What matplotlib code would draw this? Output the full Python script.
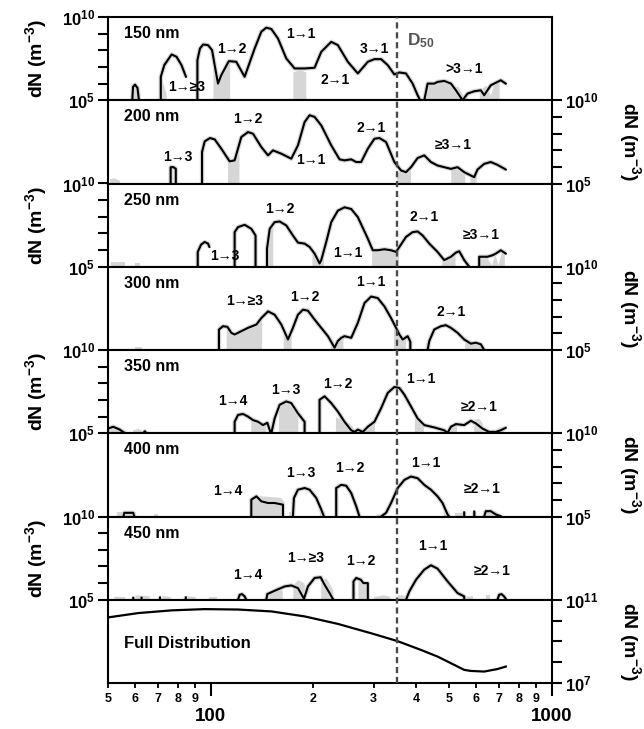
import numpy as np
import matplotlib
matplotlib.use("Agg")
import matplotlib.pyplot as plt
from matplotlib.lines import Line2D
from matplotlib.ticker import NullLocator, FixedLocator

nan = np.nan

# mobility diameter (nm) and log10 dN (m^-3) for each selected size; nan = gap
d150 = [58.9, 59.2, 60.0, 61.0, 61.6, nan,
        71.4, 71.4, 73.1, 76.8, 79.4, 82.1, 84.6, nan,
        91.4, 91.4, 93.0, 95.0, 98.2, 100.9, 102.7, 105.0, 107.4, 113.0, 118.8, 125.7,
        134.5, 140.7, 145.5, 150.5, 157.4, 166.5, 176.1, 188.4, 201.5, 210.8, 225.5,
        235.8, 252.2, 269.8, 288.6, 301.8, 315.6, 330.1, 345.2, 357.1, 373.4, 390.5,
        403.9, 411.0, nan,
        422.4, 432.0, 451.8, 462.0, 483.2, 505.7, 522.9, 547.0, 565.6, 591.6, 618.7,
        632.7, 661.7, 707.8, 732.0]
n150 = [5.0, 5.80, 5.94, 5.74, 5.0, nan,
        5.0, 6.41, 7.11, 7.75, 7.61, 7.11, 6.41, nan,
        5.0, 7.41, 8.11, 8.35, 8.31, 8.01, 7.11, 6.0, 6.51, 7.35, 7.31, 6.41,
        8.11, 9.12, 9.36, 9.28, 8.71, 7.51, 6.91, 6.91, 6.95, 7.91, 8.51,
        8.31, 7.31, 6.61, 7.31, 7.47, 7.47, 7.11, 6.55, 6.67, 6.61, 6.0,
        5.3, 5.0, nan,
        5.0, 6.0, 6.0, 6.1, 6.16, 6.0, 5.6, 5.0, 5.4, 5.54, 5.6,
        5.3, 5.9, 6.2, 6.0]

d200 = [76.3, 76.3, 77.8, 79.0, 79.0, nan,
        94.3, 94.3, 96.0, 99.5, 102.7, 107.4, 113.6, 117.5, 122.9, 128.6, 133.0, 140.7,
        147.2, 152.2, 161.0, 172.2, 180.1, 188.4, 194.8, 201.5, 210.8, 225.5, 238.5,
        246.6, 258.0, 266.8, 275.9, 288.6, 301.8, 312.1, 326.4, 345.2, 361.1, 373.4,
        386.2, 403.9, 422.4, 441.8, 462.0, 483.2, 505.7, 528.9, 553.1, 578.5, 591.6,
        605.0, 632.7, 661.7, 692.1, 732.0]
n200 = [5.0, 5.98, 5.98, 5.88, 5.0, nan,
        5.0, 6.89, 7.53, 7.73, 7.65, 7.09, 6.33, 6.39, 7.79, 8.09, 7.99, 7.19,
        6.69, 6.99, 6.79, 6.49, 7.29, 8.69, 9.10, 9.0, 8.49, 7.29, 6.45,
        6.39, 6.45, 6.29, 6.29, 7.09, 7.69, 7.73, 7.49, 6.29, 5.78, 5.68,
        5.98, 6.53, 6.69, 6.29, 6.08, 5.98, 5.88, 5.98, 5.68, 5.48, 5.38,
        5.84, 6.18, 6.29, 6.12, 5.84]

d250 = [91.6, 91.6, 93.7, 96.0, 98.2, 99.1, nan,
        117.5, 117.5, 120.2, 125.7, 131.5, 135.3, 135.3, nan,
        146.2, 146.2, 148.9, 153.9, 159.2, 166.5, 174.1, 180.1, 188.4, 194.8, 201.5,
        208.4, 210.8, 218.0, 225.5, 235.8, 246.6, 258.0, 269.8, 288.6, 298.4, 308.6,
        322.8, 337.6, 349.2, 357.1, 373.4, 390.5, 403.9, 417.7, 437.0, 462.0, 483.2,
        505.7, 522.9, 534.8, 553.1, 572.0, nan,
        612.0, 612.0, 647.1, 669.2, 684.4, 707.8, 732.0]
n250 = [5.0, 5.89, 6.33, 6.49, 6.39, 6.19, nan,
        5.0, 7.08, 7.38, 7.52, 7.28, 6.88, 5.0, nan,
        5.0, 6.09, 7.28, 7.68, 7.72, 7.48, 6.88, 6.45, 6.39, 6.19, 5.79,
        5.20, 5.40, 6.49, 7.68, 8.37, 8.57, 8.47, 7.98, 6.69, 5.99, 5.99,
        6.05, 5.99, 5.89, 6.19, 6.79, 7.08, 7.12, 6.88, 6.39, 5.89, 5.40,
        5.60, 5.85, 5.93, 5.40, 5.0, nan,
        5.0, 5.60, 5.60, 5.69, 5.79, 5.99, 5.79]

d300 = [105.7, 105.7, 108.6, 111.9, 114.9, 117.5, 122.9, 128.6, 136.1, 140.7, 147.2,
        153.9, 161.0, 168.4, 174.1, 180.1, 186.3, 192.7, 201.5, 210.8, 220.5, 230.6,
        235.8, 241.2, 246.6, 258.0, 269.8, 282.2, 295.1, 308.6, 322.8, 337.6, 349.2,
        357.1, 365.2, 377.6, 384.5, 384.5, nan,
        432.0, 436.9, 451.8, 472.5, 488.8, 505.7, 528.9, 553.1, 578.5, 598.3, 618.7, 632.7]
n300 = [5.0, 6.23, 6.43, 6.39, 6.03, 5.93, 6.13, 6.33, 6.53, 6.92, 7.32,
        7.12, 6.53, 5.63, 6.33, 7.12, 7.42, 7.36, 6.83, 6.33, 5.83, 5.14,
        5.54, 5.73, 5.83, 5.73, 6.63, 7.82, 8.21, 8.12, 7.62, 6.92, 6.33,
        5.93, 5.63, 5.83, 5.5, 5.0, nan,
        5.0, 5.54, 6.23, 6.43, 6.49, 6.33, 6.03, 5.63, 5.38, 5.44, 5.34, 5.0]

d350 = [50.0, 51.8, 54.1, 56.1, nan,
        63.4, 64.1, 64.8, nan,
        117.5, 117.5, 120.2, 124.3, 128.6, 133.0, 137.6, 142.3, 146.5, 149.5, nan,
        150.5, 153.9, 159.2, 166.5, 172.2, 180.1, 188.4, 188.4, nan,
        208.4, 208.4, 215.6, 225.5, 235.8, 246.6, 258.0, 263.8, 269.8, 279.0, 288.6,
        301.8, 315.6, 330.1, 345.2, 357.1, 369.3, 386.2, 403.9, 422.4, 451.8, 483.2,
        494.4, 505.7, 522.9, 553.1, 578.5, 598.3, 625.7, 654.4, 684.4, 707.8, 732.0]
n350 = [5.28, 5.39, 5.22, 5.0, nan,
        5.0, 5.12, 5.0, nan,
        5.0, 5.69, 6.10, 6.16, 6.0, 5.79, 5.69, 5.49, 5.63, 5.08, nan,
        5.0, 5.89, 6.71, 6.91, 6.81, 6.20, 5.69, 5.0, nan,
        5.0, 7.01, 7.22, 6.81, 6.30, 5.69, 5.18, 5.08, 5.22, 5.08, 5.39,
        5.69, 6.50, 7.42, 7.78, 7.72, 7.32, 6.61, 5.89, 5.49, 5.35, 5.18,
        5.02, 5.39, 5.55, 5.49, 5.75, 5.59, 5.28, 5.08, 5.08, 5.18, 5.33]

d400 = [55.5, 55.8, 59.3, 59.7, nan,
        131.5, 131.5, 136.1, 140.7, 147.2, 153.9, 162.8, 162.8, nan,
        174.1, 175.3, 180.1, 188.4, 194.8, 203.8, 210.8, 214.6, nan,
        233.2, 233.2, 241.2, 249.4, 258.0, 266.8, 272.8, nan,
        315.6, 326.4, 337.6, 353.1, 369.3, 386.2, 403.9, 422.4, 441.8, 462.0, 477.8,
        494.4, 500.0, nan,
        553.0, 553.0, nan, 592.0, 592.0, nan,
        632.7, 639.9, 661.7, 684.4, 707.8]
n400 = [5.0, 5.22, 5.22, 5.0, nan,
        5.0, 6.01, 6.21, 5.91, 5.81, 5.81, 5.71, 5.0, nan,
        5.0, 6.11, 6.61, 6.71, 6.61, 6.11, 5.42, 5.0, nan,
        5.0, 6.71, 6.90, 6.85, 6.41, 5.62, 5.0, nan,
        5.0, 5.22, 5.81, 6.71, 7.20, 7.40, 7.30, 6.90, 6.61, 6.21, 5.81,
        5.12, 5.0, nan,
        5.0, 5.25, nan, 5.0, 5.3, nan,
        5.0, 5.32, 5.32, 5.12, 5.02]

d450 = [59.3, 59.3, nan, 62.7, 62.7, nan, 71.0, 71.0, nan, 84.5, 84.5, nan,
        120.2, 121.6, 123.5, 125.7, 127.1, nan,
        145.5, 146.5, 153.9, 164.7, 172.2, 180.1, 187.6, 192.7, 201.5, 209.9, 215.6,
        223.0, 228.6, nan,
        262.0, 262.0, 266.8, 275.3, 280.0, 288.6, 288.6, nan,
        373.4, 381.9, 399.4, 422.4, 441.8, 462.0, 494.4, 528.9, 540.8, 553.1, 553.1, nan,
        692.1, 700.0, 711.0, 723.8, 732.0]
n450 = [5.0, 5.12, nan, 5.0, 5.12, nan, 5.0, 5.14, nan, 5.0, 5.14, nan,
        5.0, 5.30, 5.34, 5.20, 5.0, nan,
        5.0, 5.34, 5.54, 5.80, 5.86, 5.70, 5.06, 5.80, 6.31, 6.35, 5.90,
        5.40, 5.0, nan,
        5.0, 6.10, 6.31, 6.20, 6.0, 6.0, 5.0, nan,
        5.0, 5.50, 6.20, 6.81, 7.07, 6.87, 6.10, 5.40, 5.30, 5.20, 5.0, nan,
        5.0, 5.30, 5.34, 5.20, 5.06]

d_full = [50.0, 61.3, 76.8, 96.0, 120.2, 150.5, 188.4, 235.8, 295.1, 351.5, 413.0,
          462.0, 505.7, 553.1, 578.5, 632.7, 692.1, 732.0]
n_full = [10.15, 10.36, 10.49, 10.55, 10.53, 10.44, 10.20, 9.84, 9.39, 9.02, 8.59,
          8.27, 7.95, 7.63, 7.58, 7.55, 7.67, 7.79]

# light grey spread: upper edge of the band wherever it reaches the bottom
g150_d = [58.5, 59.5, 61.0, 62.0, nan, 70.5, 72.0, 74.0, nan,
          101.5, 103.5, 105.0, 107.4, 110.0, 113.6, nan, 174.0, 182.0, 190.0, nan,
          425.0, 445.0, 470.0, 500.0, 515.0, 530.0, 548.0, 565.0, nan,
          612.0, 640.0, 660.0, 680.0, 700.0]
g150_n = [5.5, 6.0, 5.8, 5.4, nan, 5.9, 6.2, 5.4, nan,
          7.7, 6.8, 6.0, 6.5, 6.9, 7.3, nan, 6.7, 6.85, 6.7, nan,
          5.9, 6.05, 6.1, 5.95, 5.8, 5.85, 5.3, 5.2, nan,
          5.6, 5.9, 5.3, 6.2, 6.1]
g200_d = [50.5, 52.0, 54.0, nan, 112.0, 115.0, 118.0, 121.0, nan,
          350.0, 360.0, 372.0, 385.0, nan, 505.0, 520.0, 540.0, 555.0, nan,
          575.0, 590.0, 600.0]
g200_n = [5.3, 5.35, 5.2, nan, 6.5, 6.4, 6.45, 6.9, nan,
          5.6, 5.75, 5.7, 5.9, nan, 5.85, 5.9, 5.7, 5.6, nan,
          5.5, 5.4, 5.5]
g250_d = [51.0, 53.0, 56.0, nan, 60.0, 62.0, nan, 146.2, 148.9, 152.0, nan,
          198.0, 204.0, 209.0, 214.0, nan, 296.0, 310.0, 325.0, 345.0, 355.0, nan,
          475.0, 490.0, 505.0, 520.0, nan,
          612.0, 640.0, 665.0, 680.0, 695.0, 710.0, 725.0]
g250_n = [5.3, 5.3, 5.3, nan, 5.25, 5.25, nan, 6.3, 7.2, 7.5, nan,
          5.9, 5.5, 5.3, 5.9, nan, 6.0, 6.05, 6.05, 5.95, 5.9, nan,
          5.7, 5.5, 5.6, 5.8, nan,
          5.65, 5.65, 5.1, 5.75, 5.1, 5.9, 5.8]
g300_d = [60.0, 63.0, nan, 111.0, 115.0, 118.0, 125.0, 130.0, 137.0, 141.0, nan,
          163.0, 168.0, 172.0, nan, 224.0, 230.0, 236.0, 244.0, nan,
          343.0, 352.0, 362.0, 372.0, nan, 425.0, 435.0, nan,
          555.0, 580.0, 600.0, 625.0]
g300_n = [5.2, 5.2, nan, 6.35, 6.1, 5.95, 6.2, 6.4, 6.6, 6.9, nan,
          6.3, 5.7, 6.2, nan, 5.9, 5.2, 5.6, 5.85, nan,
          6.3, 6.0, 5.7, 5.8, nan, 5.4, 5.5, nan,
          5.6, 5.45, 5.5, 5.4]
g350_d = [50.0, 53.0, 56.0, nan, 59.0, 61.0, 64.0, nan, 131.0, 137.0, 145.0, nan,
          158.0, 164.0, 172.0, 180.0, nan, 232.0, 245.0, 255.0, 262.0, nan,
          278.0, 290.0, 302.0, nan, 395.0, 410.0, 420.0, nan,
          500.0, 515.0, 525.0, nan, 590.0, 610.0, 625.0, nan, 690.0, 705.0, 720.0]
g350_n = [5.45, 5.45, 5.2, nan, 5.2, 5.3, 5.1, nan, 5.85, 5.8, 5.6, nan,
          6.6, 6.95, 6.8, 6.3, nan, 6.0, 5.75, 5.6, 5.3, nan,
          5.3, 5.6, 5.75, nan, 6.1, 5.7, 5.6, nan,
          5.45, 5.6, 5.55, nan, 5.85, 5.9, 5.6, nan, 5.3, 5.4, 5.35]
g400_d = [53.0, 56.0, 60.0, nan, 68.0, 70.0, nan, 130.0, 138.0, 150.0, 160.0, 164.0, nan,
          170.0, 176.0, nan, 208.0, 216.0, nan, 305.0, 318.0, nan,
          480.0, 500.0, nan, 520.0, 560.0, nan, 625.0, 660.0, 690.0]
g400_n = [5.3, 5.3, 5.25, nan, 5.15, 5.15, nan, 6.0, 6.25, 6.2, 6.15, 5.9, nan,
          5.3, 5.3, nan, 5.6, 5.3, nan, 5.15, 5.2, nan,
          5.5, 5.3, nan, 5.2, 5.2, nan, 5.35, 5.4, 5.3]
g450_d = [52.0, 56.0, nan, 60.0, 66.0, nan, 72.0, 76.0, nan, 84.0, 90.0, nan,
          99.0, 104.0, nan, 148.0, 155.0, 162.0, nan, 174.0, 180.0, 188.0, nan,
          210.0, 218.0, 228.0, nan, 270.0, 280.0, 288.0, nan, 300.0, 320.0, 335.0, nan,
          352.0, 362.0, 374.0, nan, 560.0, 585.0, nan, 640.0, 660.0]
g450_n = [5.22, 5.2, nan, 5.3, 5.25, nan, 5.25, 5.2, nan, 5.25, 5.2, nan,
          5.15, 5.15, nan, 5.45, 5.6, 5.6, nan, 5.9, 6.2, 6.0, nan,
          6.2, 6.3, 5.6, nan, 6.1, 6.1, 5.9, nan, 5.2, 5.3, 5.2, nan,
          5.3, 5.3, 5.2, nan, 5.2, 5.25, nan, 5.3, 5.3]

sizes = ["150 nm", "200 nm", "250 nm", "300 nm", "350 nm", "400 nm", "450 nm"]
curves = [(d150, n150), (d200, n200), (d250, n250), (d300, n300),
          (d350, n350), (d400, n400), (d450, n450)]
spreads = [(g150_d, g150_n), (g200_d, g200_n), (g250_d, g250_n), (g300_d, g300_n),
           (g350_d, g350_n), (g400_d, g400_n), (g450_d, g450_n)]

# charge-state transitions: (text, diameter, log10 dN)
labels = [
    [("1\u2192\u22653", 85, 5.8), ("1\u21922", 115, 8.1), ("1\u21921", 184, 9.0),
     ("2\u21921", 231, 6.2), ("3\u21921", 302, 8.1), (">3\u21921", 553, 6.85)],
    [("1\u21923", 80, 6.6), ("1\u21922", 128, 8.9), ("1\u21921", 197, 6.4),
     ("2\u21921", 295, 8.33), ("\u22653\u21921", 512, 7.3)],
    [("1\u21923", 110, 5.65), ("1\u21922", 159, 8.47), ("1\u21921", 252, 5.8),
     ("2\u21921", 422, 7.98), ("\u22653\u21921", 619, 6.88)],
    [("1\u2192\u22653", 126, 7.92), ("1\u21922", 188, 8.21), ("1\u21921", 295, 9.11),
     ("2\u21921", 506, 7.26)],
    [("1\u21924", 116, 6.91), ("1\u21923", 166, 7.58), ("1\u21922", 236, 7.97),
     ("1\u21921", 413, 8.23), ("\u22652\u21921", 612, 6.57)],
    [("1\u21924", 112, 6.55), ("1\u21923", 184, 7.6), ("1\u21922", 255, 7.9),
     ("1\u21921", 427, 8.19), ("\u22652\u21921", 626, 6.65)],
    [("1\u21924", 128, 6.5), ("1\u2192\u22653", 190, 7.51), ("1\u21922", 275, 7.31),
     ("1\u21921", 447, 8.21), ("\u22652\u21921", 669, 6.71)],
]

d50 = 352

plt.rcParams["font.family"] = ["Liberation Sans", "DejaVu Sans"]
plt.rcParams["font.weight"] = "bold"
plt.rcParams["mathtext.fontset"] = "custom"
plt.rcParams["mathtext.rm"] = "Liberation Sans:bold"
plt.rcParams["mathtext.bf"] = "Liberation Sans:bold"
plt.rcParams["mathtext.it"] = "Liberation Sans:bold"
plt.rcParams["mathtext.default"] = "rm"
plt.rcParams["axes.linewidth"] = 1.5

W, H = 644, 729
left_px, right_px, top_px, bot_px = 108, 552, 17, 683
ph = (bot_px - top_px) / 8

fig = plt.figure(figsize=(W / 100, H / 100), dpi=100)


def pieces(d, n):
    d = np.asarray(d, float)
    n = np.asarray(n, float)
    cuts = np.where(np.isnan(d))[0]
    for a, b in zip(np.split(d, cuts), np.split(n, cuts)):
        ok = ~np.isnan(a)
        if ok.sum() > 1:
            yield a[ok], b[ok]


axes = []
for i in range(8):
    y0 = 1 - (top_px + (i + 1) * ph) / H
    ax = fig.add_axes([left_px / W, y0, (right_px - left_px) / W, ph / H])
    ax.set_xscale("log")
    ax.set_yscale("log")
    ax.set_xlim(50, 1000)
    ax.yaxis.set_minor_locator(NullLocator())
    on_left = i % 2 == 0
    if i < 7:
        ax.set_ylim(1e5, 1e10)
        ax.set_yticks([10.0 ** k for k in range(5, 11)])
        ax.set_yticklabels(["$10^{5}$", "", "", "", "", "$10^{10}$"])
    else:
        ax.set_ylim(1e7, 1e11)
        ax.set_yticks([10.0 ** k for k in range(7, 12)])
        ax.set_yticklabels(["$10^{7}$", "", "", "", "$10^{11}$"])
    ax.tick_params(axis="y", which="major", direction="out", length=7.5, width=1.5,
                   labelsize=12, pad=2, left=on_left, labelleft=on_left,
                   right=not on_left, labelright=not on_left)
    if i < 7:
        ax.tick_params(axis="x", which="both", bottom=False, labelbottom=False)
    axes.append(ax)

for ax, name, (d, n), (gd, gn), labs in zip(axes, sizes, curves, spreads, labels):
    for a, b in pieces(gd, gn):
        ax.fill_between(a, 1e5, 10.0 ** b, color="#d6d6d6", lw=0, zorder=1)
    y = 10.0 ** np.asarray(n, float)
    ax.plot(d, y, color="#d6d6d6", lw=3.2, zorder=2, solid_capstyle="butt")
    ax.plot(d, y, color="black", lw=1.5, zorder=3)
    ax.text(0.035, 0.80, name, transform=ax.transAxes, fontsize=11.5,
            fontweight="bold", va="center", ha="left")
    for txt, x, v in labs:
        ax.text(x, 10.0 ** v, txt, fontsize=10, fontweight="bold",
                ha="center", va="center", zorder=4)

# full size distribution
axf = axes[7]
axf.plot(d_full, 10.0 ** np.asarray(n_full), color="black", lw=1.6)
axf.text(0.035, 0.48, "Full Distribution", transform=axf.transAxes, fontsize=12,
         fontweight="bold", va="center", ha="left")
axf.xaxis.set_major_locator(FixedLocator([100, 1000]))
axf.xaxis.set_minor_locator(FixedLocator([50, 60, 70, 80, 90, 200, 300, 400, 500,
                                          600, 700, 800, 900]))
axf.set_xticklabels(["100", "1000"])
axf.set_xticklabels(["5", "6", "7", "8", "9", "2", "3", "4", "5", "6", "7", "8", "9"],
                    minor=True)
axf.tick_params(axis="x", which="major", direction="out", length=9, width=1.5,
                labelsize=13.5, pad=9)
axf.tick_params(axis="x", which="minor", direction="out", length=3.5, width=1.3,
                labelsize=9, pad=4)

# D50 marker across all panels
fig.canvas.draw()
xd = axes[0].transData.transform((d50, 1e7))[0] / (W)
fig.add_artist(Line2D([xd, xd], [1 - bot_px / H, 1 - top_px / H], transform=fig.transFigure,
                      color="#4a4a4a", lw=1.7, dashes=(2.6, 1.6), zorder=5))
axes[0].text(375, 10 ** 8.55, "D$_{50}$", color="#555555", fontsize=12.5,
             fontweight="bold", ha="left", va="center")

# y-axis titles, alternating sides
for i in range(8):
    yc = 1 - (top_px + (i + 0.5) * ph) / H
    if i % 2 == 0:
        fig.text(36 / W, yc, "dN (m$^{-3}$)", rotation=90, fontsize=14,
                 fontweight="bold", ha="center", va="center")
    else:
        fig.text(630 / W, yc, "dN (m$^{-3}$)", rotation=270, fontsize=14,
                 fontweight="bold", ha="center", va="center")

fig.savefig("out.png", dpi=100)
